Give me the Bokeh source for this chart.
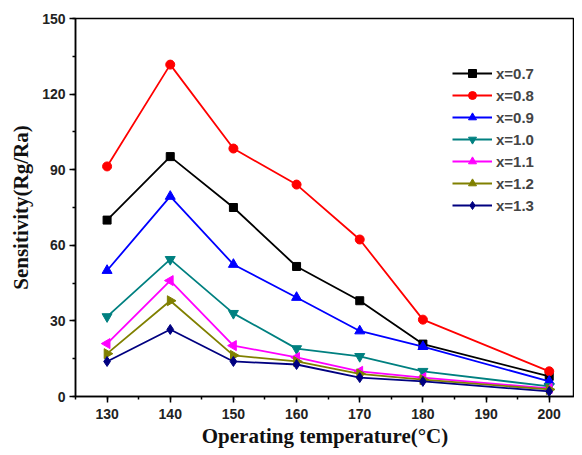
import math
from bokeh.plotting import figure
from bokeh.models import Range1d, Legend, LegendItem, ColumnDataSource, SingleIntervalTicker
from bokeh.embed import file_html
from bokeh.resources import INLINE

temps = [130, 140, 150, 160, 170, 180, 200]
labels = ["x=0.7", "x=0.8", "x=0.9", "x=1.0", "x=1.1", "x=1.2", "x=1.3"]
s07 = [70, 95.2, 75, 51.6, 38, 20.8, 8]
s08 = [91.3, 131.7, 98.4, 84.1, 62.3, 30.5, 10]
s09 = [50, 79.4, 52.4, 39.3, 26, 19.8, 6]
s10 = [31.7, 54.4, 33, 19, 15.9, 10, 4]
s11 = [21, 46, 20.2, 15.5, 10, 7.5, 3.2]
s12 = [17, 38, 16.3, 13.9, 9, 6.7, 2.8]
s13 = [13.9, 26.6, 13.9, 12.7, 7.5, 6, 2]
series = [s07, s08, s09, s10, s11, s12, s13]
colors = ["#000000", "#FF0000", "#0000FF", "#008080", "#FF00FF", "#808000", "#000080"]
markers = ["square", "circle", "triangle", "inverted_triangle", "triangle", "triangle", "diamond"]
angles = [0, 0, 0, 0, math.pi / 2, -math.pi / 2, 0]
sizes = [8, 9, 10, 10, 10, 10, 10]

p = figure(width=574, height=447, output_backend="svg", toolbar_location=None,
           x_range=Range1d(125, 204), y_range=Range1d(0, 150),
           min_border_left=75, min_border_right=0, min_border_top=18, min_border_bottom=51)
p.frame_width = 499
p.frame_height = 378
p.xgrid.visible = False
p.ygrid.visible = False
p.outline_line_color = "black"
p.outline_line_width = 1.5
p.background_fill_color = "white"

p.xaxis.ticker = SingleIntervalTicker(interval=10, num_minor_ticks=2)
p.yaxis.ticker = SingleIntervalTicker(interval=30, num_minor_ticks=2)

for ax in (p.xaxis[0], p.yaxis[0]):
    ax.axis_line_width = 1.5
    ax.major_tick_line_width = 1.5
    ax.minor_tick_line_width = 1.5
    ax.major_tick_out = 6
    ax.major_tick_in = 0
    ax.minor_tick_out = 3
    ax.minor_tick_in = 0
    ax.major_label_text_font = "Liberation Sans"
    ax.major_label_text_font_style = "bold"
    ax.major_label_text_font_size = "14px"
    ax.major_label_text_color = "#222222"
    ax.axis_label_text_font = "Liberation Serif"
    ax.axis_label_text_font_style = "bold"
    ax.axis_label_text_font_size = "21px"
    ax.axis_label_text_color = "#111111"

p.xaxis.axis_label = "Operating temperature(°C)"
p.yaxis.axis_label = "Sensitivity(Rg/Ra)"
p.xaxis.axis_label_standoff = 2
p.yaxis.axis_label_standoff = 6
p.xaxis.major_label_standoff = 6
p.yaxis.major_label_standoff = 4

items = []
for lab, vals, c, m, a, s in zip(labels, series, colors, markers, angles, sizes):
    src = ColumnDataSource(dict(x=temps, y=vals, ang=[a] * len(temps)))
    ln = p.line("x", "y", source=src, line_color=c, line_width=1.8)
    sc = p.scatter("x", "y", source=src, marker=m, size=s, angle="ang",
                   fill_color=c, line_color=c)
    items.append(LegendItem(label=lab, renderers=[ln, sc]))

legend = Legend(items=items, location=(373, 177))
legend.border_line_alpha = 0
legend.background_fill_alpha = 0
legend.label_text_font = "Liberation Sans"
legend.label_text_font_style = "bold"
legend.label_text_font_size = "15px"
legend.glyph_width = 40
legend.glyph_height = 20
legend.label_height = 20
legend.spacing = 2
legend.padding = 4
legend.margin = 0
legend.label_standoff = 4
p.add_layout(legend)

open("out.html", "w").write(file_html(p, INLINE))
